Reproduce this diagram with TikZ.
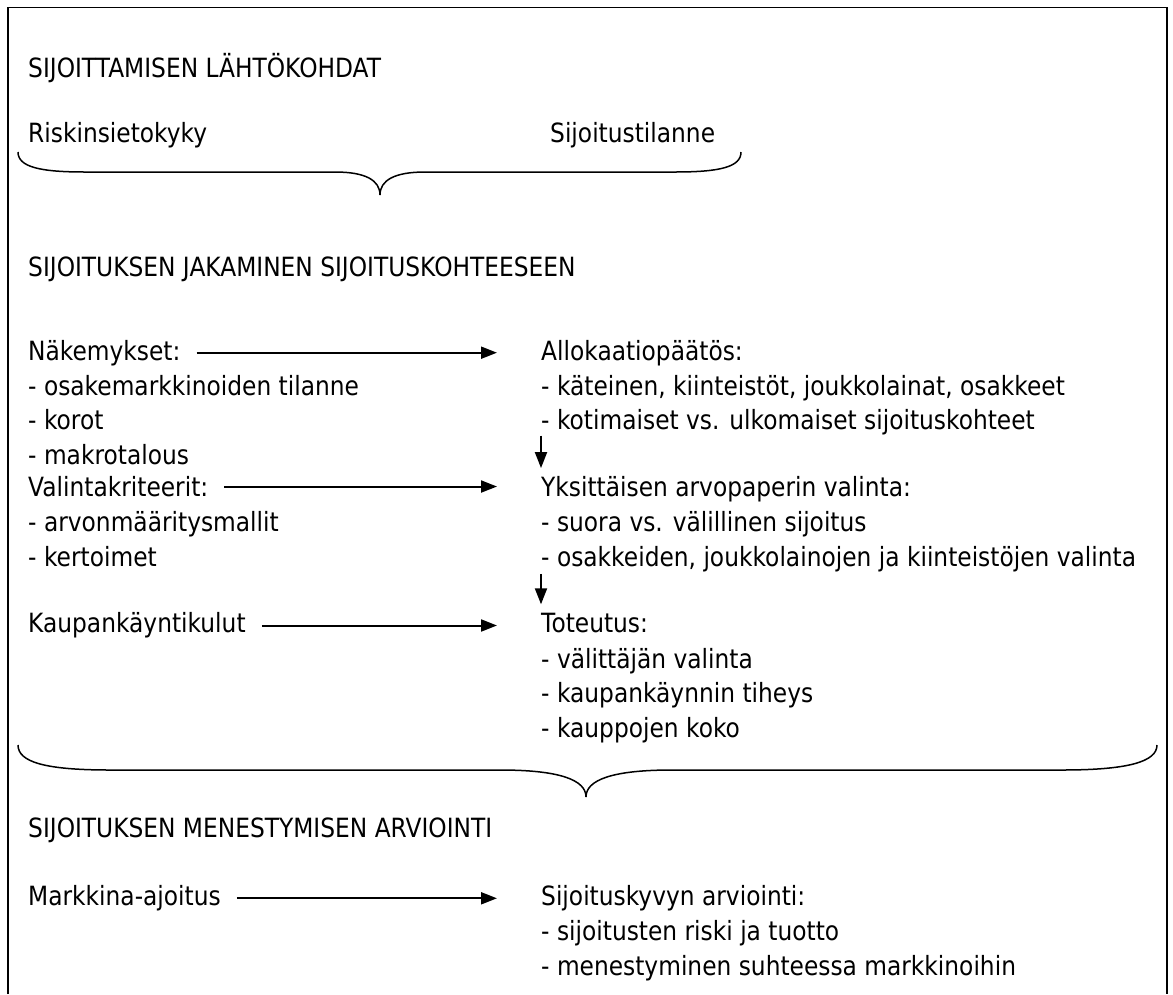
\documentclass[tikz,border=0pt]{standalone}
\usepackage{fontspec}
\setmainfont[FakeStretch=0.88]{DejaVu Sans}
\usetikzlibrary{positioning,arrows.meta}

\tikzset{
  txt/.style={inner sep=0pt, anchor=base west, align=left},
  list/.style={inner sep=0pt, anchor=north west, align=left},
  flow/.style={line width=2pt, -{Triangle[length=16pt,width=12pt]}},
  brace/.style={line width=1.5pt},
}

\begin{document}
\begin{tikzpicture}[x=1pt, y=-1pt, font=\fontsize{26.5}{34.5}\selectfont]
  \useasboundingbox (0,0) rectangle (1173,994);
  % Outer frame, open at the bottom
  \draw[line width=1.8pt] (8,994) -- (8,7.5) -- (1167,7.5) -- (1167,994);

  % Starting points
  \node[txt] (lahto) at (28,77) {SIJOITTAMISEN LÄHTÖKOHDAT};
  \node[txt] (riski) at (28,142) {Riskinsietokyky};
  \node[txt] (tilanne) at (550,142) {Sijoitustilanne};
  \draw[brace] (18,152) .. controls (18,167) and (40,172) .. (85,172) -- (335,172)
    .. controls (365,172) and (380,180) .. (380,195)
    .. controls (380,180) and (395,172) .. (425,172) -- (675,172)
    .. controls (720,172) and (741,167) .. (741,152);

  % Allocation to investment targets
  \node[txt] (jako) at (28,276) {SIJOITUKSEN JAKAMINEN SIJOITUSKOHTEESEEN};

  \node[txt] (nak) at (28,360) {Näkemykset:};
  \node[list] (nakl) at ([yshift=-15pt]nak.base west) {- osakemarkkinoiden tilanne\\- korot\\- makrotalous};
  \node[txt] (allo) at (541,360) {Allokaatiopäätös:};
  \node[list] (allol) at ([yshift=-15pt]allo.base west) {- käteinen, kiinteistöt, joukkolainat, osakkeet\\- kotimaiset vs. ulkomaiset sijoituskohteet};

  \node[txt] (valk) at (28,496.4) {Valintakriteerit:};
  \node[list] (valkl) at ([yshift=-15pt]valk.base west) {- arvonmääritysmallit\\- kertoimet};
  \node[txt] (yks) at (541,496.4) {Yksittäisen arvopaperin valinta:};
  \node[list] (yksl) at ([yshift=-15pt]yks.base west) {- suora vs. välillinen sijoitus\\- osakkeiden, joukkolainojen ja kiinteistöjen valinta};

  \node[txt] (kulut) at (28,632.8) {Kaupankäyntikulut};
  \node[txt] (tot) at (541,632.8) {Toteutus:};
  \node[list] (totl) at ([yshift=-15pt]tot.base west) {- välittäjän valinta\\- kaupankäynnin tiheys\\- kauppojen koko};

  \draw[flow, shorten <=16pt, shorten >=44pt] (nak.east) -- (nak.east -| allo.west);
  \draw[flow, shorten <=16pt, shorten >=44pt] (valk.east) -- (valk.east -| yks.west);
  \draw[flow, shorten <=16pt, shorten >=44pt] (kulut.east) -- (kulut.east -| tot.west);
  \draw[flow, shorten <=0pt, shorten >=8pt] (allol.south west) -- (yks.north west);
  \draw[flow, shorten <=2pt, shorten >=9pt] (yksl.south west) -- (tot.north west);

  \draw[brace] (18,745) .. controls (18,762) and (45,770) .. (110,770) -- (500,770)
    .. controls (560,770) and (586,780) .. (586,797)
    .. controls (586,780) and (612,770) .. (672,770) -- (1062,770)
    .. controls (1127,770) and (1157,762) .. (1157,745);

  % Evaluation
  \node[txt] (arvio) at (28,837.4) {SIJOITUKSEN MENESTYMISEN ARVIOINTI};
  \node[txt] (ajoitus) at (28,905.6) {Markkina-ajoitus};
  \node[txt] (kyky) at (541,905.6) {Sijoituskyvyn arviointi:};
  \node[list] (kykyl) at ([yshift=-15pt]kyky.base west) {- sijoitusten riski ja tuotto\\- menestyminen suhteessa markkinoihin};
  \draw[flow, shorten <=16pt, shorten >=44pt] (ajoitus.east) -- (ajoitus.east -| kyky.west);
\end{tikzpicture}
\end{document}
